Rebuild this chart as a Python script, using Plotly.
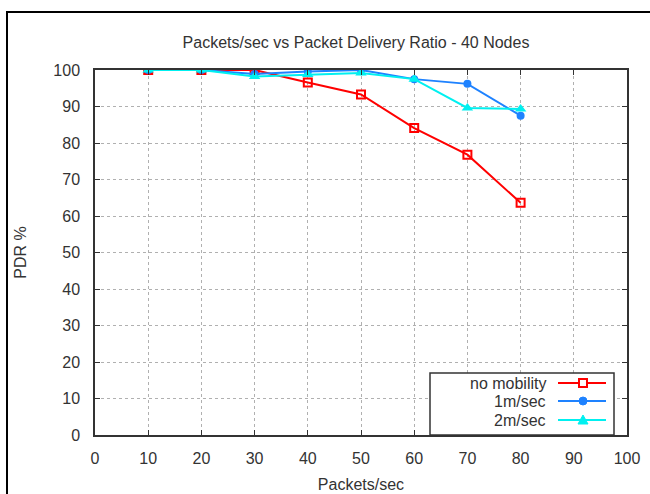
import plotly.graph_objects as go

x_vals = [10, 20, 30, 40, 50, 60, 70, 80]
no_mobility = [100, 100, 100, 96.6, 93.3, 84.1, 76.8, 63.6]
m1_sec = [100, 100, 98.9, 99.6, 100, 97.5, 96.2, 87.5]
m2_sec = [100, 100, 98.2, 98.8, 99.2, 97.5, 89.6, 89.3]
x_ticks = list(range(0, 101, 10))
y_ticks = list(range(0, 101, 10))
series_names = ["no mobility", "1m/sec", "2m/sec"]
series_colors = ["#ff0000", "#1e82ff", "#00f0f0"]

# plot area in pixels
L, R, T, B = 95, 627, 70, 435
PW, PH = R - L, B - T


def px(x):
    return (x - L) / PW


def py(y):
    return (B - y) / PH


fig = go.Figure()
fig.add_trace(go.Scatter(x=x_vals, y=no_mobility, name=series_names[0], mode="lines+markers",
                         line=dict(color=series_colors[0], width=2),
                         marker=dict(symbol="square-open", size=8, color=series_colors[0], line=dict(width=2))))
fig.add_trace(go.Scatter(x=x_vals, y=m1_sec, name=series_names[1], mode="lines+markers",
                         line=dict(color=series_colors[1], width=2),
                         marker=dict(symbol="circle", size=8, color=series_colors[1])))
fig.add_trace(go.Scatter(x=x_vals, y=m2_sec, name=series_names[2], mode="lines+markers",
                         line=dict(color=series_colors[2], width=2),
                         marker=dict(symbol="triangle-up", size=10, color=series_colors[2])))

axis_common = dict(showline=True, linecolor="#333333", linewidth=1.5, mirror="ticks",
                   ticks="inside", ticklen=5, tickcolor="#333333", automargin=False,
                   showgrid=True, gridcolor="#b0b0b0", griddash="dot", gridwidth=1,
                   zeroline=False, tickfont=dict(size=16, color="#333333"))

fig.update_xaxes(range=[0, 100], tickvals=x_ticks, ticklabelstandoff=8,
                 title=dict(text="Packets/sec", font=dict(size=16, color="#333333"), standoff=13), **axis_common)
fig.update_yaxes(range=[0, 100], tickvals=y_ticks, ticklabelstandoff=10,
                 title=dict(text="PDR %", font=dict(size=16, color="#333333"), standoff=23), **axis_common)

# custom legend (text right-aligned, samples on the right, gnuplot-style)
shapes = [dict(type="rect", xref="paper", yref="paper", x0=px(7), x1=1.2,
               y0=-0.4, y1=py(12), line=dict(color="black", width=2), layer="below"),
          dict(type="rect", xref="paper", yref="paper", x0=px(430), x1=px(614),
               y0=0, y1=py(373), line=dict(color="#333333", width=1.5), fillcolor="white", layer="above")]
annotations = []
rows = [383, 401, 420]
mx = 583
for name, color, ry, sym in zip(series_names, series_colors, rows, ["sq", "ci", "tr"]):
    annotations.append(dict(text=name, xref="paper", yref="paper", x=px(548), y=py(ry),
                            xanchor="right", yanchor="middle", showarrow=False,
                            font=dict(size=16, color="#333333")))
    shapes.append(dict(type="line", xref="paper", yref="paper", x0=px(558), x1=px(606),
                       y0=py(ry), y1=py(ry), line=dict(color=color, width=2), layer="above"))
    if sym == "sq":
        shapes.append(dict(type="rect", xref="paper", yref="paper", x0=px(mx - 4), x1=px(mx + 4),
                           y0=py(ry + 4), y1=py(ry - 4), line=dict(color=color, width=2),
                           fillcolor="white", layer="above"))
    elif sym == "ci":
        shapes.append(dict(type="circle", xref="paper", yref="paper", x0=px(mx - 4), x1=px(mx + 4),
                           y0=py(ry + 4), y1=py(ry - 4), line=dict(color=color, width=1),
                           fillcolor=color, layer="above"))
    else:
        path = (f"M {px(mx - 5)},{py(ry + 4)} L {px(mx + 5)},{py(ry + 4)} "
                f"L {px(mx)},{py(ry - 5)} Z")
        shapes.append(dict(type="path", xref="paper", yref="paper", path=path,
                           line=dict(color=color, width=1), fillcolor=color, layer="above"))

fig.update_layout(
    width=650, height=494,
    margin=dict(l=L, r=650 - R, t=T, b=494 - B, autoexpand=False),
    paper_bgcolor="white", plot_bgcolor="white",
    showlegend=False,
    font=dict(family="Liberation Sans, Arial, sans-serif", color="#333333"),
    title=dict(text="Packets/sec vs Packet Delivery Ratio - 40 Nodes", x=356 / 650, xanchor="center",
               y=1 - 42 / 494, yanchor="middle", font=dict(size=16, color="#333333")),
    shapes=shapes,
    annotations=annotations,
)

fig.write_html("out.html", config={"displayModeBar": False},
               post_script="document.body.style.margin='0px';")
